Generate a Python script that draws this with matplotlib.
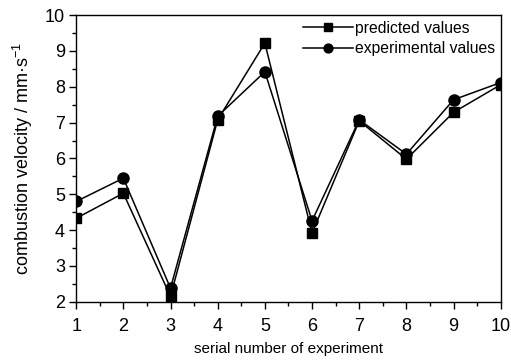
import matplotlib
matplotlib.use('Agg')
import matplotlib.pyplot as plt
from matplotlib.ticker import MultipleLocator

plt.rcParams['font.family'] = ['Liberation Sans Narrow', 'Liberation Sans', 'DejaVu Sans']
plt.rcParams['mathtext.fontset'] = 'custom'
plt.rcParams['mathtext.rm'] = 'Liberation Sans'

# data
serial = [1, 2, 3, 4, 5, 6, 7, 8, 9, 10]
predicted = [4.33, 5.03, 2.15, 7.08, 9.22, 3.92, 7.05, 5.98, 7.29, 8.06]
experimental = [4.80, 5.45, 2.38, 7.18, 8.42, 4.26, 7.08, 6.12, 7.64, 8.12]

fig = plt.figure(figsize=(5.11, 3.61), dpi=100)
ax = fig.add_axes([0.149, 0.164, 0.831, 0.794])

ax.plot(serial, predicted, color='black', lw=1.1, marker='s', ms=7, label='predicted values')
ax.plot(serial, experimental, color='black', lw=1.1, marker='o', ms=8, label='experimental values')

ax.set_xlim(1, 10)
ax.set_ylim(2, 10)
ax.xaxis.set_major_locator(MultipleLocator(1))
ax.xaxis.set_minor_locator(MultipleLocator(0.5))
ax.yaxis.set_major_locator(MultipleLocator(1))
ax.yaxis.set_minor_locator(MultipleLocator(0.5))
ax.tick_params(which='major', direction='out', length=5, width=1, labelsize=13, pad=3)
ax.tick_params(axis='x', which='major', pad=7)
ax.tick_params(which='minor', direction='out', length=3, width=1)
for s in ax.spines.values():
    s.set_linewidth(1)

ax.set_xlabel('serial number of experiment', fontsize=11, labelpad=5)
ax.set_ylabel('combustion velocity / mm·s$^{-1}$', fontsize=13, labelpad=7)

leg = ax.legend(loc='upper right', frameon=False, fontsize=11.3, handlelength=3.2, handletextpad=0.15,
                labelspacing=0.35, borderaxespad=0.05, borderpad=0.3, markerscale=0.8)

fig.savefig('out.png', dpi=100)
